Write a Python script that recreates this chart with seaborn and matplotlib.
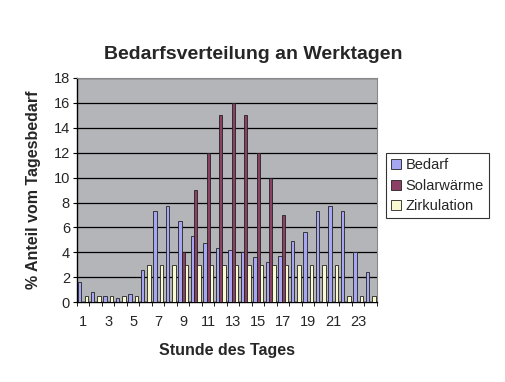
import pandas as pd
import numpy as np
import matplotlib
matplotlib.use("Agg")
import matplotlib.pyplot as plt
import seaborn as sns

# values (% of daily demand per hour)
hours = list(range(1, 25))
bedarf = [1.6, 0.8, 0.5, 0.3, 0.65, 2.55, 7.3, 7.75, 6.5, 5.3, 4.75, 4.35,
          4.2, 4.0, 3.6, 3.25, 3.7, 4.9, 5.6, 7.3, 7.75, 7.3, 4.0, 2.45]
solar = [0, 0, 0, 0, 0, 0, 0, 0, 4, 9, 12, 15,
         16, 15, 12, 10, 7, 0, 0, 0, 0, 0, 0, 0]
zirkulation = [0.5, 0.5, 0.5, 0.5, 0.5, 3, 3, 3, 3, 3, 3, 3,
               3, 3, 3, 3, 3, 3, 3, 3, 3, 0.5, 0.5, 0.5]
series = ["Bedarf", "Solarwärme", "Zirkulation"]
colors = ["#9999FF", "#993366", "#FFFFCC"]

df = pd.DataFrame({
    "Stunde": hours * 3,
    "Wert": bedarf + solar + zirkulation,
    "Serie": [series[0]] * 24 + [series[1]] * 24 + [series[2]] * 24,
})

sns.set_style("white")
plt.rcParams["font.family"] = ["Liberation Sans", "DejaVu Sans"]

fig = plt.figure(figsize=(5.06, 3.82), dpi=100)
ax = fig.add_axes([0.152, 0.209, 0.593, 0.587])
ax.set_facecolor("#b3b5b9")

sns.barplot(data=df, x="Stunde", y="Wert", hue="Serie", palette=colors,
            hue_order=series, width=0.8, edgecolor="#222222", linewidth=0.6,
            ax=ax, zorder=3)

# y axis
ax.set_ylim(0, 18)
ax.set_yticks(range(0, 19, 2))
ax.yaxis.grid(True, color="black", linewidth=0.9, zorder=1)
ax.set_axisbelow(True)
ax.tick_params(axis="y", labelsize=10.5, length=3, left=True, color="black", pad=2)

# x axis: labels every second hour, tick marks between categories
ax.set_xlim(-0.5, 23.5)
ax.set_xticks(range(24))
ax.set_xticklabels([str(h) if h % 2 == 1 else "" for h in hours], fontsize=10.5)
ax.tick_params(axis="x", which="major", length=0, pad=9)
ax.set_xticks(np.arange(-0.5, 24, 1), minor=True)
ax.tick_params(axis="x", which="minor", length=3, bottom=True, color="black")

for side in ["left", "bottom"]:
    ax.spines[side].set_color("black")
    ax.spines[side].set_linewidth(1.0)
for side in ["top", "right"]:
    ax.spines[side].set_color("#888888")
    ax.spines[side].set_linewidth(0.8)

ax.set_xlabel("Stunde des Tages", fontsize=11.5, fontweight="bold", labelpad=10)
ax.set_ylabel("% Anteil vom Tagesbedarf", fontsize=11.5, fontweight="bold", labelpad=9)
fig.text(0.5, 0.845, "Bedarfsverteilung an Werktagen", ha="center",
         fontsize=14, fontweight="bold")

leg = ax.legend(loc="upper left", bbox_to_anchor=(1.03, 0.665), frameon=True,
                fancybox=False, edgecolor="black", fontsize=10.5,
                handlelength=0.7, handleheight=0.7, handletextpad=0.3,
                borderpad=0.35, labelspacing=0.45, borderaxespad=0)
leg.get_frame().set_linewidth(0.8)

fig.savefig("out.png", dpi=100)
